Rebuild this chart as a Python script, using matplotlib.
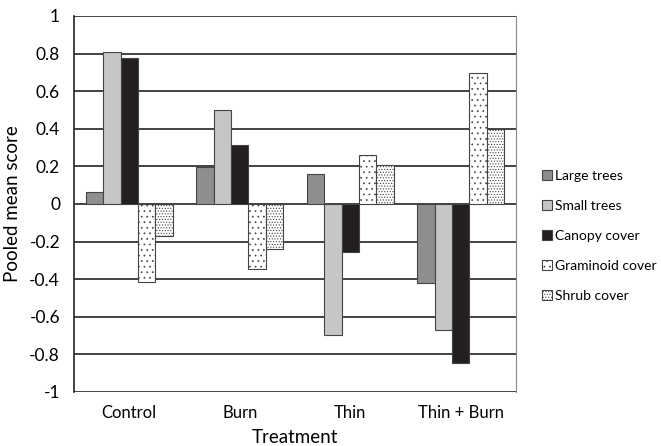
import matplotlib
matplotlib.use("Agg")
import matplotlib.pyplot as plt
import numpy as np

categories = ["Control", "Burn", "Thin", "Thin + Burn"]
series = ["Large trees", "Small trees", "Canopy cover", "Graminoid cover", "Shrub cover"]
large_trees = [0.065, 0.195, 0.16, -0.42]
small_trees = [0.81, 0.50, -0.695, -0.67]
canopy_cover = [0.775, 0.315, -0.255, -0.845]
graminoid_cover = [-0.415, -0.345, 0.26, 0.695]
shrub_cover = [-0.17, -0.24, 0.21, 0.40]
values = [large_trees, small_trees, canopy_cover, graminoid_cover, shrub_cover]
yticks = [1, 0.8, 0.6, 0.4, 0.2, 0, -0.2, -0.4, -0.6, -0.8, -1]
ytick_labels = ["1", "0.8", "0.6", "0.4", "0.2", "0", "-0.2", "-0.4", "-0.6", "-0.8", "-1"]

faces = ["#8e8e8e", "#c6c6c6", "#231f20", "white", "white"]
hatches = [None, None, None, "...", "......"]

plt.rcParams['font.family'] = ['Lato', 'DejaVu Sans']
plt.rcParams['hatch.color'] = '#444444'
plt.rcParams['hatch.linewidth'] = 0.5

fig = plt.figure(figsize=(6.61, 4.46), dpi=100)
ax = fig.add_axes([74/661, 1 - 392/446, (516-74)/661, (392-16)/446])

x = np.arange(len(categories))
w = 0.157
for i, (name, vals) in enumerate(zip(series, values)):
    ax.bar(x + (i - 2) * w, vals, width=w, color=faces[i], hatch=hatches[i],
           edgecolor="#444444", linewidth=0.8, label=name, zorder=3)

ax.set_ylim(-1, 1)
ax.set_xlim(-0.5, 3.5)
ax.set_yticks(yticks)
ax.set_yticklabels(ytick_labels, fontsize=12.5)
ax.set_xticks(x)
ax.set_xticklabels(categories, fontsize=12)
ax.tick_params(axis='both', length=0)
ax.tick_params(axis='y', pad=10)
ax.tick_params(axis='x', pad=9)
for yv in yticks:
    ax.axhline(yv, color="#222222", linewidth=1.2, zorder=1)
for side in ["top", "bottom"]:
    ax.spines[side].set_visible(False)
ax.spines["left"].set_color("#222222")
ax.spines["left"].set_linewidth(1.2)
ax.spines["right"].set_color("#888888")
ax.set_ylabel("Pooled mean score", fontsize=13.5, labelpad=6)
ax.set_xlabel("Treatment", fontsize=13.5, labelpad=6)

leg = ax.legend(loc="upper left", bbox_to_anchor=(536/661, 1 - 164/446),
                bbox_transform=fig.transFigure, frameon=False, fontsize=10,
                handlelength=0.75, handleheight=0.75, handletextpad=0.25,
                labelspacing=1.3, borderaxespad=0)

fig.savefig("out.png", dpi=100)
